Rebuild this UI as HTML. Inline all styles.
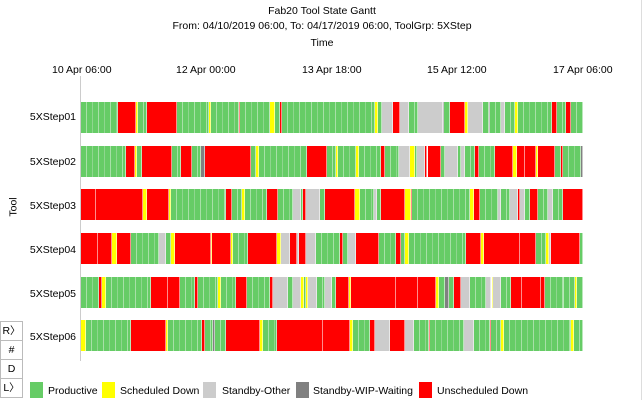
<!DOCTYPE html>
<html><head><meta charset="utf-8"><style>
body{margin:0;width:644px;height:400px;background:#fff;font-family:"Liberation Sans",sans-serif;font-size:10.5px;color:#000;position:relative;overflow:hidden}
.a{position:absolute;white-space:nowrap}
.t{position:absolute;left:0;width:644px;text-align:center}
.lab{position:absolute;left:0;width:76px;text-align:right}
.seg{position:absolute;top:0;height:100%;box-sizing:border-box;border-right:1px solid rgba(255,255,255,0.55)}
.row{position:absolute;left:81px;width:502px;height:31px}
.g{background:repeating-linear-gradient(90deg,#66cc66 0 5px,#a8e0a8 5px 6px,#66cc66 6px 11px,#8fd68f 11px 12px)}
.btn{position:absolute;left:0;width:21px;height:18px;border:1px solid #bbb;text-align:center;line-height:18px;font-size:10.5px;background:#fff}
.sq{position:absolute;top:382px;width:13px;height:16px}
</style></head><body>
<div style="position:absolute;right:2px;top:0;width:1px;height:400px;background:#ddd"></div>
<div class="t" style="top:5px">Fab20 Tool State Gantt</div>
<div class="t" style="top:20px">From: 04/10/2019 06:00, To: 04/17/2019 06:00, ToolGrp: 5XStep</div>
<div class="t" style="top:37px">Time</div>
<div class="a" style="left:52px;top:64px">10 Apr 06:00</div>
<div class="a" style="left:176px;top:64px">12 Apr 00:00</div>
<div class="a" style="left:302px;top:64px">13 Apr 18:00</div>
<div class="a" style="left:427px;top:64px">15 Apr 12:00</div>
<div class="a" style="left:553px;top:64px">17 Apr 06:00</div>
<div style="position:absolute;left:80px;top:76px;width:1px;height:285px;background:#ccc"></div>
<div class="a" style="left:4px;top:201px;transform:rotate(-90deg);transform-origin:center">Tool</div>
<div class="lab" style="top:111px">5XStep01</div>
<div class="lab" style="top:156px">5XStep02</div>
<div class="lab" style="top:200px">5XStep03</div>
<div class="lab" style="top:244px">5XStep04</div>
<div class="lab" style="top:288px">5XStep05</div>
<div class="lab" style="top:331px">5XStep06</div>
<div id="rows"></div>
<div class="btn" style="top:321px">R〉</div>
<div class="btn" style="top:340px">#</div>
<div class="btn" style="top:359px">D</div>
<div class="btn" style="top:378px">L〉</div>
<div class="sq" style="left:30px;background:#66cc66"></div><div class="a" style="left:48px;top:385px">Productive</div>
<div class="sq" style="left:102px;background:#ffff00"></div><div class="a" style="left:120px;top:385px">Scheduled Down</div>
<div class="sq" style="left:203px;background:#cccccc"></div><div class="a" style="left:222px;top:385px">Standby-Other</div>
<div class="sq" style="left:296px;background:#808080"></div><div class="a" style="left:313px;top:385px">Standby-WIP-Waiting</div>
<div class="sq" style="left:419px;background:#ff0000"></div><div class="a" style="left:437px;top:385px">Unscheduled Down</div>
<script>
const C={r:'#ff0000',y:'#ffff00',s:'#cccccc',d:'#808080'};
const R=[
[102,"g81,r118,y136,g138,r147,g177,y209,g211,r239,g240,y270,g275,r280,g282,y375,g378,s382,r393,s400,g409,s418,d443,g444,r450,y465,s468,g483,d489,g490,s501,g505,y515,g518,r552,g557,r566,g571"],
[146,"g81,r126,y135,g137,r142,g172,r181,g192,d201,r205,g251,y256,g259,r307,g327,y336,g338,y356,g359,r381,g385,s399,y410,g415,s417,r425,g427,r428,g441,s445,g458,s461,g465,r475,g479,r495,y513,r517,r525,y536,r538,g555,r561,g563,d581"],
[189,"r81,r96,y143,r147,y169,g171,r226,g232,y242,g245,r267,g278,s293,g301,r303,s306,g320,r325,y355,g360,s374,g377,r381,y405,r411,g412,y470,r474,g480,s498,g501,s510,r518,s520,g525,r530,g538,s548,g553,r563"],
[233,"r81,r98,y112,r117,g131,s159,g166,y171,r175,y211,r212,y231,g233,r248,y277,s281,r290,s297,r299,s306,g316,r340,g343,s348,r356,g379,r396,g401,y405,g409,r466,y481,r484,r520,g536,y546,s549,r551,g580"],
[277,"g81,r99,y102,g106,r151,r168,g180,r195,g198,y218,g221,r236,g247,r270,s273,g288,s293,y301,g304,y306,s308,g317,s325,g332,r336,y349,r351,r396,r418,y436,g439,d445,g449,r454,s461,g470,s486,g491,y492,s493,g501,r511,r522,r541,g545,r564,g564,y575,g577"],
[320,"y81,g86,r131,y166,g168,r202,g205,d213,g215,r226,y260,g263,r277,r323,y350,g353,r370,s375,r390,s405,g414,r429,g430,s464,g474,r490,g491,y501,g504,y571,g574"]
];
let h='';
for(const [top,str] of R){
 const s=str.split(',').map(x=>[x[0],+x.slice(1)]);
 h+=`<div class="row" style="top:${top}px">`;
 for(let i=0;i<s.length;i++){
  const x=s[i][1],e=i+1<s.length?s[i+1][1]:583,c=s[i][0];
  if(e<=x)continue;
  const st=c==='g'?'':`background:${C[c]};`;
  h+=`<div class="seg ${c==='g'?'g':''}" style="left:${x-81}px;width:${e-x}px;${st}"></div>`;
 }
 h+='</div>';
}
document.getElementById('rows').innerHTML=h;
</script>
</body></html>
